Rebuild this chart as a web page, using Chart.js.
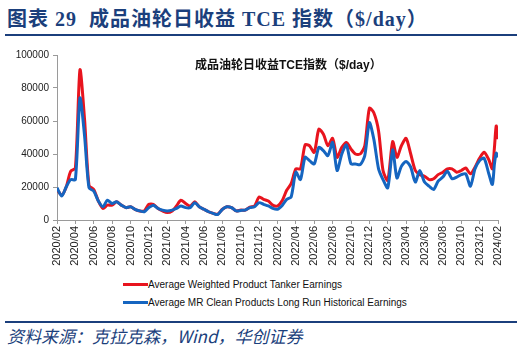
<!DOCTYPE html>
<html>
<head>
<meta charset="utf-8">
<script src="https://cdn.jsdelivr.net/npm/chart.js@4.4.1/dist/chart.umd.min.js"></script>
<style>
  html, body { margin: 0; padding: 0; background: #fff; width: 524px; height: 349px; overflow: hidden; position: relative; }
  .hdr { position: absolute; left: 7px; top: 3px; font: bold 20px "Liberation Serif", "Noto Sans CJK SC"; color: #1B3F7C; white-space: nowrap; letter-spacing: 1px; }
  .rule { position: absolute; left: 5px; width: 512px; height: 2px; background: #1B3F7C; }
  .inner { position: absolute; left: 195px; top: 55px; font: bold 12px "Liberation Sans", "Noto Sans CJK SC"; color: #111; white-space: nowrap; }
  .lg { position: absolute; left: 123px; font: 10px "Liberation Sans"; color: #111; white-space: nowrap; height: 12px; line-height: 12px; }
  .lg i { display: inline-block; width: 25px; height: 3px; vertical-align: middle; position: relative; top: -1px; }
  .src { position: absolute; left: 7px; top: 323px; font: italic 17px "Noto Sans CJK SC"; color: #1B3F7C; white-space: nowrap; }
  canvas { position: absolute; left: 0; top: 40px; }
</style>
</head>
<body>
<div class="hdr">图表 29&nbsp; 成品油轮日收益 TCE 指数（$/day）</div>
<div class="rule" style="top:34px"></div>
<canvas id="c" width="524" height="235"></canvas>
<div class="inner">成品油轮日收益TCE指数（$/day）</div>
<div class="lg" style="top:279px"><i style="background:#E8141E"></i>Average Weighted Product Tanker Earnings</div>
<div class="lg" style="top:297px"><i style="background:#1565C0"></i>Average MR Clean Products Long Run Historical Earnings</div>
<div class="rule" style="top:321px"></div>
<div class="src">资料来源：克拉克森，Wind，华创证券</div>

<script>
// Observation dates (roughly twice a month, weekly at the end)
const dates = [
  '2020-02-01','2020-02-16','2020-03-01','2020-03-16','2020-04-01','2020-04-16','2020-05-01','2020-05-16',
  '2020-06-01','2020-06-16','2020-07-01','2020-07-16','2020-08-01','2020-08-16','2020-09-01','2020-09-16',
  '2020-10-01','2020-10-16','2020-11-01','2020-11-16','2020-12-01','2020-12-16','2021-01-01','2021-01-16',
  '2021-02-01','2021-02-16','2021-03-01','2021-03-16','2021-04-01','2021-04-16','2021-05-01','2021-05-16',
  '2021-06-01','2021-06-16','2021-07-01','2021-07-16','2021-08-01','2021-08-16','2021-09-01','2021-09-16',
  '2021-10-01','2021-10-16','2021-11-01','2021-11-16','2021-12-01','2021-12-16','2022-01-01','2022-01-16',
  '2022-02-01','2022-02-16','2022-03-01','2022-03-16','2022-04-01','2022-04-16','2022-05-01','2022-05-16',
  '2022-06-01','2022-06-16','2022-07-01','2022-07-16','2022-08-01','2022-08-16','2022-09-01','2022-09-16',
  '2022-10-01','2022-10-16','2022-11-01','2022-11-16','2022-12-01','2022-12-16','2023-01-01','2023-01-16',
  '2023-02-01','2023-02-16','2023-03-01','2023-03-16','2023-04-01','2023-04-16','2023-05-01','2023-05-16',
  '2023-06-01','2023-06-16','2023-07-01','2023-07-16','2023-08-01','2023-08-16','2023-09-01','2023-09-16',
  '2023-10-01','2023-10-16','2023-11-01','2023-11-16','2023-12-01','2023-12-16','2024-01-01','2024-01-13',
  '2024-01-20','2024-01-26','2024-02-01'
];

// Average Weighted Product Tanker Earnings ($/day)
const tankerAvg = [
  18500,15000,20000,29500,31500,91000,61000,21000,
  18500,11500,7000,9000,9000,11000,9000,7500,
  8000,6500,5500,5500,9500,9500,7000,5500,
  4500,5500,8500,12000,10000,8500,11000,8000,
  6500,5000,4000,3500,6500,8000,7500,5500,
  6000,6000,7800,8500,14000,12500,11500,9000,
  8500,12000,18000,22000,31000,31000,45500,45000,
  41000,55000,52000,45000,49500,38000,44000,47000,
  43000,40000,40000,45000,67700,65000,54000,30000,
  24000,47500,38000,45000,49500,40000,30000,27500,
  26500,24500,25000,27500,29000,31000,31000,29000,
  30000,31500,28000,32000,37500,41000,36500,31000,
  44000,57000,49000
];

// Average MR Clean Products Long Run Historical Earnings ($/day)
const mrCleanAvg = [
  19500,14500,20000,24500,24500,74000,51000,19500,
  17500,11500,8000,12000,10000,11000,9000,7500,
  8000,6500,5500,5000,7500,9000,7000,6000,
  5500,6000,7000,8500,7500,7500,10500,8000,
  6500,5000,4000,3300,6500,8000,7500,5500,
  5800,6000,7500,8000,10500,9500,8500,7000,
  6500,9000,12500,14000,29000,24500,38000,36000,
  34000,44000,42000,39000,47000,30000,40000,45500,
  34000,34000,33500,39000,59000,49000,31000,24500,
  19500,42500,25500,32500,35500,32000,23000,30000,
  23000,20500,18500,23500,26000,29500,25000,26000,
  27500,28000,20500,31000,36000,37500,28000,21500,
  34000,40500,38000
];

// Axis tick labels, one every two months starting 2020/02
const tickLabels = [
  '2020/02','2020/04','2020/06','2020/08','2020/10','2020/12',
  '2021/02','2021/04','2021/06','2021/08','2021/10','2021/12',
  '2022/02','2022/04','2022/06','2022/08','2022/10','2022/12',
  '2023/02','2023/04','2023/06','2023/08','2023/10','2023/12',
  '2024/02'
];

const seriesNames = [
  'Average Weighted Product Tanker Earnings',
  'Average MR Clean Products Long Run Historical Earnings'
];

// months elapsed since 2020-02-01
function monthIndex(s) {
  const [y, m, d] = s.split('-').map(Number);
  const days = new Date(y, m, 0).getDate();
  return (y - 2020) * 12 + (m - 2) + (d - 1) / days;
}

const toPoints = vals => dates.map((d, i) => ({ x: monthIndex(d), y: vals[i] }));

new Chart(document.getElementById('c'), {
  type: 'line',
  data: {
    datasets: [
      { label: seriesNames[0], data: toPoints(tankerAvg), borderColor: '#E8141E', borderWidth: 3,
        pointRadius: 0, tension: 0.25, fill: false, order: 1 },
      { label: seriesNames[1], data: toPoints(mrCleanAvg), borderColor: '#1565C0', borderWidth: 3,
        pointRadius: 0, tension: 0.25, fill: false, order: 0 }
    ]
  },
  options: {
    responsive: false,
    animation: false,
    devicePixelRatio: 1,
    layout: { padding: { top: 15, right: 26, left: 0, bottom: 0 } },
    plugins: { legend: { display: false }, tooltip: { enabled: false } },
    scales: {
      x: {
        type: 'linear', min: 0, max: 48,
        afterFit(s) { s.height = 55; },
        afterBuildTicks(s) { s.ticks = tickLabels.map((_, i) => ({ value: i * 2 })); },
        ticks: {
          autoSkip: false, minRotation: 90, maxRotation: 90, padding: 2,
          color: '#222', font: { family: 'Liberation Sans', size: 11 },
          callback: v => tickLabels[Math.round(v / 2)]
        },
        grid: { drawOnChartArea: false, drawTicks: true, tickLength: 4, color: '#9a9a9a' },
        border: { display: true, color: '#9a9a9a', width: 1 }
      },
      y: {
        min: 0, max: 100000,
        afterFit(s) { s.width = 57; },
        ticks: { stepSize: 20000, padding: 4, color: '#222', font: { family: 'Liberation Sans', size: 10 },
                 callback: v => String(v) },
        grid: { drawOnChartArea: false, drawTicks: true, tickLength: 4, color: '#9a9a9a' },
        border: { display: true, color: '#9a9a9a', width: 1 }
      }
    }
  }
});
</script>
</body>
</html>
